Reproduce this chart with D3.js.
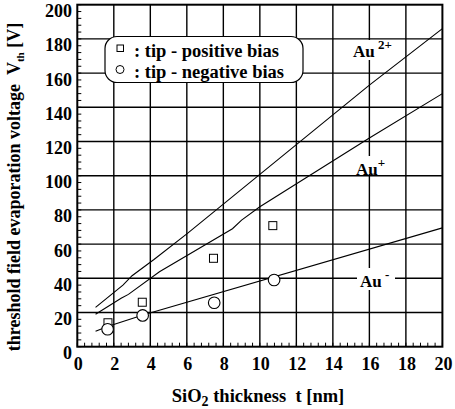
<!DOCTYPE html>
<html><head><meta charset="utf-8">
<script src="https://cdn.jsdelivr.net/npm/d3@7"></script>
<style>body{margin:0;background:#fff}</style>
</head><body><svg id="c" width="455" height="409" font-family="'Liberation Serif', 'Times New Roman', Times, 'DejaVu Serif', serif" font-weight="bold"></svg>
<script>
const xTicks = [0,2,4,6,8,10,12,14,16,18,20];
const yTicks = [0,20,40,60,80,100,120,140,160,180,200];
const posT = [1.68,3.56,7.46,10.71];
const posV = [14,26,51.7,70.8];
const negT = [1.66,3.58,7.5,10.78];
const negV = [10.2,18.3,25.7,39];
const au2T = [1,2.5,3,4.2,6,16,20];
const au2V = [23,36,41.5,51,66,153,186];
const au1T = [1,2.4,2.8,4.5,8.5,9,10,16,20];
const au1V = [19,28.3,30.6,43.8,69,74,81.8,122,148];
const aumT = [1,1.7,3.6,20];
const aumV = [9,12,18.5,69.5];

const svg = d3.select("#c");
const L=77.3,R=442.4,T=4.7,B=346.7;
const x = d3.scaleLinear().domain([0,20]).range([L,R]);
const y = d3.scaleLinear().domain([0,200]).range([B,T]);

// grid
const g = svg.append("g");
g.selectAll("line.vx").data(xTicks.slice(1,-1)).join("line")
 .attr("x1",d=>x(d)).attr("x2",d=>x(d)).attr("y1",T).attr("y2",B)
 .attr("stroke","#000").attr("stroke-width",1.4);
g.selectAll("line.hy").data(yTicks.slice(1,-1)).join("line")
 .attr("y1",d=>y(d)).attr("y2",d=>y(d)).attr("x1",L).attr("x2",R)
 .attr("stroke","#000").attr("stroke-width",1.4);

// minor ticks
const xMinor = d3.range(0,20.001,0.4);
const yMinor = d3.range(0,200.001,4);
g.selectAll("line.mx").data(xMinor).join("line")
 .attr("x1",d=>x(d)).attr("x2",d=>x(d)).attr("y1",B).attr("y2",B-4)
 .attr("stroke","#000").attr("stroke-width",1);
g.selectAll("line.my").data(yMinor).join("line")
 .attr("y1",d=>y(d)).attr("y2",d=>y(d)).attr("x1",L).attr("x2",L+4)
 .attr("stroke","#000").attr("stroke-width",1);

// series lines
const line = d3.line().x(d=>x(d[0])).y(d=>y(d[1]));
[[au2T,au2V],[au1T,au1V],[aumT,aumV]].forEach(([t,v])=>{
  svg.append("path").datum(t.map((d,i)=>[d,v[i]])).attr("d",line)
   .attr("fill","none").attr("stroke","#000").attr("stroke-width",1.1);
});

// labels with white background
function ionLabel(xp,yp,sup,bx,by,bw,bh){
  svg.append("rect").attr("x",bx).attr("y",by).attr("width",bw).attr("height",bh).attr("fill","#fff");
  const t = svg.append("text").attr("x",xp).attr("y",yp).attr("font-size",17);
  t.append("tspan").text("Au");
  t.append("tspan").attr("dy",-8).attr("font-size",13).text(sup);
}
ionLabel(353,57,"\u00a02+",348,40,51,20);
ionLabel(356,175,"+",354,156,32,18);
ionLabel(360,287,"\u00a0-",357,268,38,22);

// markers
svg.selectAll("rect.pos").data(posT.map((d,i)=>[d,posV[i]])).join("rect")
 .attr("x",d=>x(d[0])-4).attr("y",d=>y(d[1])-4).attr("width",8).attr("height",8)
 .attr("fill","#fff").attr("stroke","#000").attr("stroke-width",1);
svg.selectAll("circle.neg").data(negT.map((d,i)=>[d,negV[i]])).join("circle")
 .attr("cx",d=>x(d[0])).attr("cy",d=>y(d[1])).attr("r",5.8)
 .attr("fill","#fff").attr("stroke","#000").attr("stroke-width",1.1);

// frame
svg.append("rect").attr("x",L).attr("y",T).attr("width",R-L).attr("height",B-T)
 .attr("fill","none").attr("stroke","#000").attr("stroke-width",2);

// axes labels
svg.selectAll("text.xt").data(xTicks).join("text")
 .attr("x",d=>x(d)+1).attr("y",370).attr("text-anchor","middle").attr("font-size",18).text(d=>d);
svg.selectAll("text.yt").data(yTicks).join("text")
 .attr("x",72).attr("y",d=>y(d)+12.5).attr("text-anchor","end").attr("font-size",18).text(d=>d);

// legend
svg.append("rect").attr("x",105).attr("y",36.5).attr("width",198).attr("height",46)
 .attr("rx",12).attr("fill","#fff").attr("stroke","#000").attr("stroke-width",1.2);
svg.append("rect").attr("x",117).attr("y",45).attr("width",6.5).attr("height",6.5)
 .attr("fill","#fff").attr("stroke","#000").attr("stroke-width",1);
svg.append("circle").attr("cx",120).attr("cy",69.5).attr("r",4)
 .attr("fill","#fff").attr("stroke","#000").attr("stroke-width",1);
svg.append("text").attr("x",134).attr("y",57).attr("font-size",18.5).text(": tip - positive bias");
svg.append("text").attr("x",134).attr("y",78).attr("font-size",18.5).text(": tip - negative bias");

// x title
const xt = svg.append("text").attr("x",258).attr("y",401.5).attr("text-anchor","middle").attr("font-size",18.5);
xt.append("tspan").text("SiO");
xt.append("tspan").attr("dy",4).attr("font-size",14).text("2");
xt.append("tspan").attr("dy",-4).text(" thickness\u00a0\u00a0t [nm]");

// y title
const yt = svg.append("text").attr("transform","translate(20,187) rotate(-90)").attr("text-anchor","middle").attr("font-size",18);
yt.append("tspan").text("threshold field evaporation voltage\u00a0\u00a0V");
yt.append("tspan").attr("dy",4).attr("font-size",11).text("th");
yt.append("tspan").attr("dy",-4).text(" [V]");
</script></body></html>
